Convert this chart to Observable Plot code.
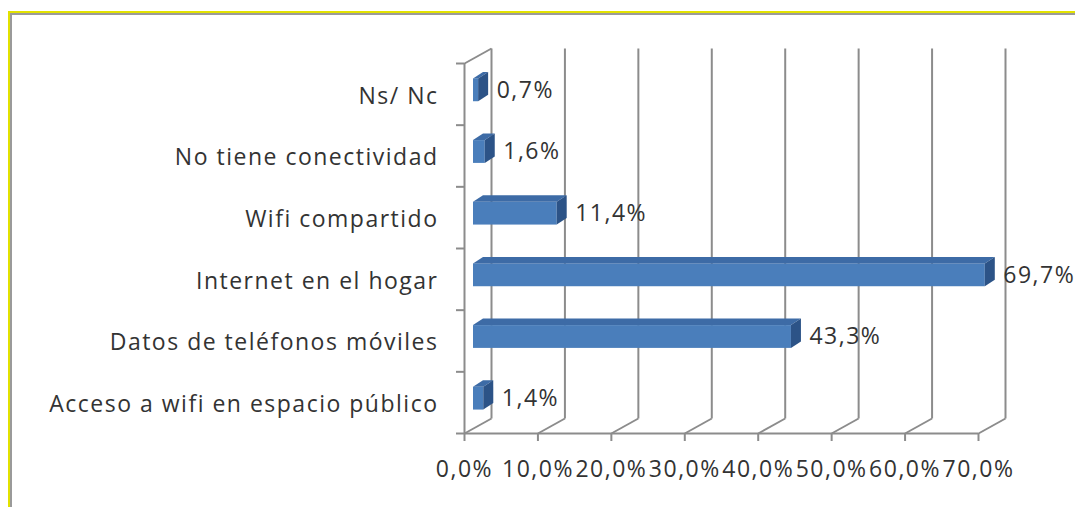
<!DOCTYPE html>
<html>
<head>
<meta charset="utf-8">
<script src="https://cdn.jsdelivr.net/npm/d3@7"></script>
<script src="https://cdn.jsdelivr.net/npm/@observablehq/plot@0.6"></script>
<style>
  html, body { margin: 0; padding: 0; background: #fff; overflow: hidden; }
  #wrap { position: relative; width: 1075px; height: 507px; overflow: hidden; }
  #frame { position: absolute; left: 8px; top: 11px; width: 2000px; height: 2000px;
           border-top: 2px solid #e2e200; border-left: 2px solid #e2e200; }
  #frame2 { position: absolute; left: 10px; top: 13px; width: 2000px; height: 2000px;
           border-top: 2px solid #9a9a9a; border-left: 2px solid #9a9a9a; }
  #chart { position: absolute; left: 0; top: 0; }
  #chart svg text { letter-spacing: 1.5px; }
</style>
</head>
<body>
<div id="wrap"><div id="frame"></div><div id="frame2"></div><div id="chart"></div></div>
<script>
// ---- data (bottom to top) ----
const categories = [
  "Acceso a wifi en espacio público",
  "Datos de teléfonos móviles",
  "Internet en el hogar",
  "Wifi compartido",
  "No tiene conectividad",
  "Ns/ Nc"
];
const values = [1.4, 43.3, 69.7, 11.4, 1.6, 0.7];
const xTicks = [0, 10, 20, 30, 40, 50, 60, 70];

const fmt = d => d.toFixed(1).replace(".", ",") + "%";

// ---- layout ----
const W = 1075, H = 507;
const mL = 464, mR = 97, mT = 63, mB = 74;
const xMax = 70, yMax = categories.length;
const pxX = (W - mL - mR) / xMax;   // pixels per percent
const pxY = (H - mT - mB) / yMax;   // pixels per category band
// oblique depth of the 3D walls, converted into data units
const wallDX = 27 / pxX, wallDY = 15 / pxY;
// bar placement inside the depth
const barX0 = 9 / pxX, barB = 0.38, barH = 0.37;
const barDX = 10 / pxX, barDY = 6.5 / pxY;

const bars = categories.map((c, i) => ({c, i, v: values[i]}));
const topFace = bars.flatMap(d => [
  {i: d.i, y: d.i + barB + barH, x1: barX0, x2: d.v + barX0},
  {i: d.i, y: d.i + barB + barH + barDY, x1: barX0 + barDX, x2: d.v + barX0 + barDX}
]);
const sideFace = bars.flatMap(d => [
  {i: d.i, x: d.v + barX0, y1: d.i + barB, y2: d.i + barB + barH},
  {i: d.i, x: d.v + barX0 + barDX, y1: d.i + barB + barDY, y2: d.i + barB + barH + barDY}
]);

const gridCol = "#8c8c8c";
const textCol = "#333333";

const chart = Plot.plot({
  width: W, height: H,
  marginLeft: mL, marginRight: mR, marginTop: mT, marginBottom: mB,
  style: {fontFamily: "'Open Sans', sans-serif", fontSize: "23px", color: textCol, background: "transparent", overflow: "visible"},
  x: {domain: [0, xMax]},
  y: {domain: [0, yMax]},
  marks: [
    // back gridlines
    Plot.link(xTicks, {x1: t => t + wallDX, x2: t => t + wallDX, y1: wallDY, y2: yMax + wallDY, stroke: gridCol, strokeWidth: 2}),
    // floor slants
    Plot.link(xTicks, {x1: t => t, x2: t => t + wallDX, y1: 0, y2: wallDY, stroke: gridCol, strokeWidth: 2}),
    // left wall top slant
    Plot.link([yMax], {x1: 0, x2: wallDX, y1: d => d, y2: d => d + wallDY, stroke: gridCol, strokeWidth: 2}),
    // front y axis line and baseline
    Plot.ruleX([0], {y1: 0, y2: yMax, stroke: gridCol, strokeWidth: 2}),
    Plot.ruleY([0], {x1: 0, x2: xMax, stroke: gridCol, strokeWidth: 2}),
    // y ticks (band boundaries)
    Plot.axisY({ticks: d3.range(0, yMax + 1), tickSize: 8, tickFormat: () => "", stroke: gridCol, strokeWidth: 2}),
    // category labels
    Plot.axisY({ticks: d3.range(0.5, yMax), tickSize: 0, tickPadding: 26, dy: 2,
      tickFormat: d => categories[Math.floor(d)], fill: textCol, fontSize: 23}),
    // x axis
    Plot.axisX({ticks: xTicks, tickSize: 8, tickPadding: 19, tickFormat: fmt, stroke: gridCol, strokeWidth: 2, fill: textCol, fontSize: 23}),
    // bars: front, top, side faces
    Plot.rect(bars, {x1: barX0, x2: d => d.v + barX0, y1: d => d.i + barB, y2: d => d.i + barB + barH, fill: "#4a7ebb"}),
    Plot.areaX(topFace, {y: "y", x1: "x1", x2: "x2", z: "i", fill: "#3d6ba6", curve: "linear"}),
    Plot.areaY(sideFace, {x: "x", y1: "y1", y2: "y2", z: "i", fill: "#2c5387", curve: "linear"}),
    // value labels
    Plot.text(bars, {x: d => d.v + barX0 + barDX, y: d => d.i + barB + barH / 2, text: d => fmt(d.v),
      dx: 8, textAnchor: "start", fill: textCol, fontSize: 23})
  ]
});
document.getElementById("chart").appendChild(chart);
</script>
</body>
</html>
